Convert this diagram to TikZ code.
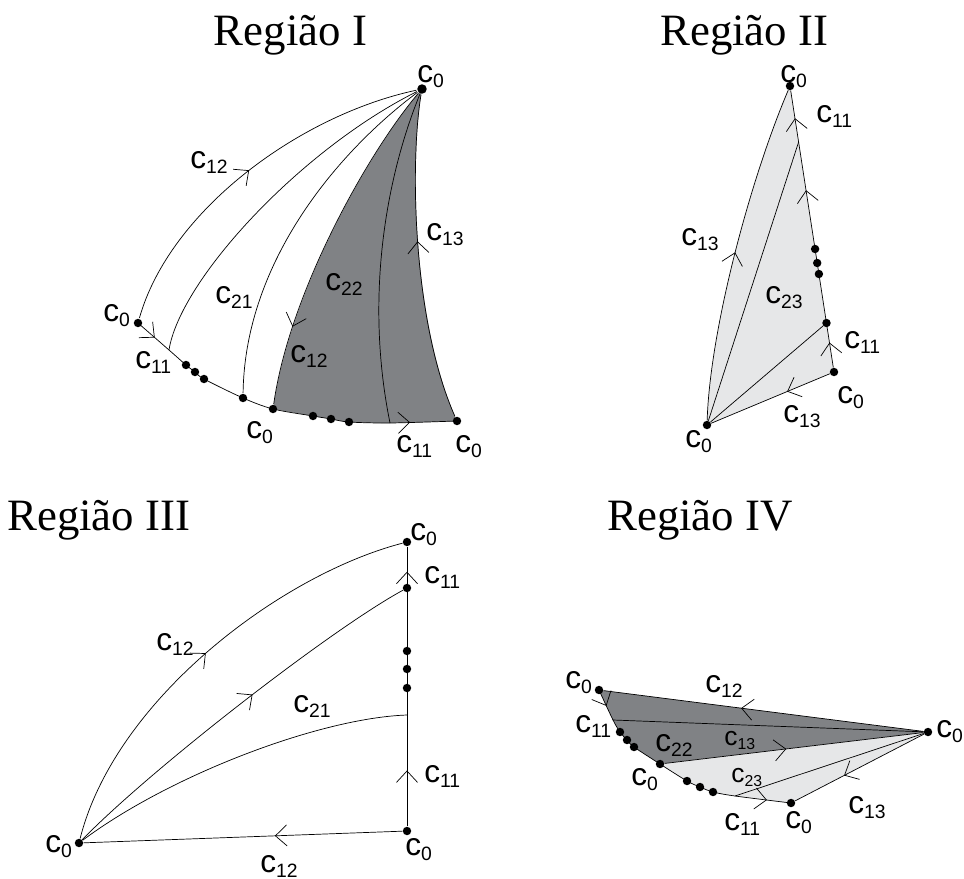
\documentclass[tikz,border=0pt]{standalone}
\usepackage{fontspec}
\setmainfont{Liberation Serif}
\newfontfamily\labfont{Liberation Sans}
\usepackage{tikz}
\usetikzlibrary{arrows.meta,decorations.markings}
\usepackage{xcolor}
\definecolor{darkfill}{RGB}{128,130,133}
\definecolor{lightfill}{RGB}{230,231,232}
\pgfdeclarelayer{background}
\pgfsetlayers{background,main}
\newcommand\cc[1]{c\raisebox{-3pt}{\fontsize{11}{12}\selectfont #1}}
\newcommand\ccs[1]{c\raisebox{-2.5pt}{\fontsize{9}{10}\selectfont #1}}
\tikzset{
  chev/.tip={Straight Barb[length=6.5pt,width=12pt]},
  dot/.style={circle,fill,inner sep=0pt,minimum size=4.8pt},
  lab/.style={font=\labfont\fontsize{18}{20}\selectfont,anchor=base west,inner sep=0pt},
  labs/.style={lab,font=\labfont\fontsize{15}{17}\selectfont},
  regtitle/.style={font=\fontsize{25.5}{28}\selectfont,anchor=base west,inner sep=0pt},
  flow/.style={postaction={decorate,decoration={markings,mark=at position #1 with {\arrow{chev}}}}}
}

\begin{document}
\begin{tikzpicture}[x=0.02cm,y=-0.02cm,line width=1.1pt]
\useasboundingbox (0,0) rectangle (964,879);

\node[regtitle] (t1) at (213,45) {Região I};
\node[dot,minimum size=5.4pt] (a1) at (422,89) {};
\node[dot] (l1) at (138,323) {};
\coordinate (p1) at (169,350);
\node[dot] (u1) at (186,365) {};
\node[dot] (u2) at (195,372) {};
\node[dot] (u3) at (204,379) {};
\node[dot] (p3) at (243,398) {};
\node[dot] (p4) at (273,409) {};
\node[dot] (v1) at (313,416) {};
\node[dot] (v2) at (331,419) {};
\node[dot] (v3) at (349,422) {};
\coordinate (p5) at (390,423);
\node[dot] (r1) at (457,421) {};
\begin{pgfonlayer}{background}
\fill[darkfill] (a1.center) .. controls (370,150) and (290,290) .. (p4.center)
  -- plot[smooth] coordinates {(p4.center) (v1.center) (v2.center) (v3.center) (p5) (r1.center)}
  .. controls (412,320) and (410,160) .. (a1.center) -- cycle;
\end{pgfonlayer}
\draw[flow=0.5] (l1) .. controls (170,210) and (300,115) .. (a1);
\draw (a1) .. controls (300,150) and (180,280) .. (p1);
\draw (a1) .. controls (340,150) and (245,260) .. (p3);
\draw[flow=0.77] (a1) .. controls (370,150) and (290,290) .. (p4);
\draw (a1) .. controls (385,180) and (365,300) .. (p5);
\draw[flow=0.55] (r1) .. controls (412,320) and (410,160) .. (a1);
\draw plot[smooth] coordinates {(l1.center) (p1) (u1.center) (u2.center) (u3.center) (p3.center) (p4.center) (v1.center) (v2.center) (v3.center) (p5) (r1.center)};
\path[flow=0.54] (l1.center) -- (p1);
\path[flow=0.3] (p5) -- (r1.center);
\node[lab] (k1) at (417,82) {\cc{0}};
\node[lab] (k2) at (190,168) {\cc{12}};
\node[lab] (k3) at (426,240) {\cc{13}};
\node[lab] (k4) at (325,290) {\cc{22}};
\node[lab] (k5) at (215,303) {\cc{21}};
\node[lab] (k6) at (290,362) {\cc{12}};
\node[lab] (k7) at (135,368) {\cc{11}};
\node[lab] (k8) at (103,321) {\cc{0}};
\node[lab] (k9) at (246,438) {\cc{0}};
\node[lab] (k10) at (396,452) {\cc{11}};
\node[lab] (k11) at (455,452) {\cc{0}};

\node[regtitle] (t2) at (660,45) {Região II};
\node[dot] (a2) at (790,86) {};
\coordinate (q1) at (798.6,142);
\node[dot] (w1) at (815.1,249) {};
\node[dot] (w2) at (817.2,263) {};
\node[dot] (w3) at (818.9,274) {};
\node[dot] (q2) at (826.5,323) {};
\node[dot] (r2) at (834,372) {};
\node[dot] (b2) at (707,425) {};
\begin{pgfonlayer}{background}
\fill[lightfill] (b2.center) .. controls (710,330) and (750,180) .. (a2.center) -- (r2.center) -- cycle;
\end{pgfonlayer}
\draw[flow=0.5] (b2) .. controls (710,330) and (750,180) .. (a2);
\draw[flow=0.09,flow=0.64,flow=0.9] (r2) -- (a2);
\draw (b2) -- (q1);
\draw (b2) -- (q2);
\draw[flow=0.36] (r2) -- (b2);
\node[lab] (n1) at (780,82) {\cc{0}};
\node[lab] (n2) at (816,122) {\cc{11}};
\node[lab] (n3) at (681,245) {\cc{13}};
\node[lab] (n4) at (765,303) {\cc{23}};
\node[lab] (n5) at (844,348) {\cc{11}};
\node[lab] (n6) at (837,403) {\cc{0}};
\node[lab] (n7) at (783,422) {\cc{13}};
\node[lab] (n8) at (685,447) {\cc{0}};

\node[regtitle] (t3) at (7,530) {Região III};
\node[dot] (a3) at (407,542) {};
\node[dot] (m3) at (407,588) {};
\node[dot] (s1) at (407,651) {};
\node[dot] (s2) at (407,669) {};
\node[dot] (s3) at (407,688) {};
\coordinate (j3) at (407,715);
\node[dot] (b3) at (407,831) {};
\node[dot] (l3) at (79,843) {};
\draw[flow=0.5] (l3) .. controls (115,700) and (280,575) .. (a3);
\draw[flow=0.55] (l3) .. controls (150,770) and (330,630) .. (m3);
\draw (l3) .. controls (170,775) and (320,718) .. (j3);
\draw[flow=0.2,flow=0.91] (b3) -- (a3);
\draw[flow=0.4] (b3) -- (l3);
\node[lab] (h1) at (410,540) {\cc{0}};
\node[lab] (h2) at (424,583) {\cc{11}};
\node[lab] (h3) at (156,650) {\cc{12}};
\node[lab] (h4) at (293,712) {\cc{21}};
\node[lab] (h5) at (424,782) {\cc{11}};
\node[lab] (h6) at (45,852) {\cc{0}};
\node[lab] (h7) at (405,855) {\cc{0}};
\node[lab] (h8) at (260,872) {\cc{12}};

\node[regtitle] (t4) at (607,530) {Região IV};
\node[dot] (a4) at (599,690) {};
\coordinate (e1) at (613,720);
\node[dot] (g1) at (620,732) {};
\node[dot] (g2) at (627,740) {};
\node[dot] (g3) at (634,747) {};
\node[dot] (m4) at (660,764) {};
\node[dot] (f1) at (687,781) {};
\node[dot] (f2) at (700,787) {};
\node[dot] (f3) at (713,792) {};
\coordinate (e2) at (735,796);
\node[dot] (b4) at (791,803) {};
\node[dot] (r4) at (928,732) {};
\begin{pgfonlayer}{background}
\fill[darkfill] (a4.center) -- (r4.center) -- (m4.center)
  -- plot[smooth] coordinates {(m4.center) (g3.center) (g2.center) (g1.center) (e1) (a4.center)} -- cycle;
\fill[lightfill] (m4.center)
  -- plot[smooth] coordinates {(m4.center) (f1.center) (f2.center) (f3.center) (e2) (b4.center)} -- (r4.center) -- cycle;
\end{pgfonlayer}
\draw plot[smooth] coordinates {(a4.center) (e1) (g1.center) (g2.center) (g3.center) (m4.center) (f1.center) (f2.center) (f3.center) (e2) (b4.center)};
\path[flow=0.53] (a4.center) -- (e1);
\path[flow=0.57] (e2) -- (b4.center);
\draw[flow=0.57] (r4) -- (a4);
\draw (r4) -- (e1);
\draw[flow=0.47] (m4) -- (r4);
\draw (r4) -- (e2);
\draw[flow=0.62] (r4) -- (b4);
\node[lab] (o1) at (565,688) {\cc{0}};
\node[lab] (o2) at (705,692) {\cc{12}};
\node[lab] (o3) at (575,732) {\cc{11}};
\node[lab] (o4) at (655,751) {\cc{22}};
\node[labs] (o5) at (724,745) {\ccs{13}};
\node[lab] (o6) at (631,785) {\cc{0}};
\node[labs] (o7) at (731,782) {\ccs{23}};
\node[lab] (o8) at (724,830) {\cc{11}};
\node[lab] (o9) at (785,828) {\cc{0}};
\node[lab] (o10) at (848,813) {\cc{13}};
\node[lab] (o11) at (936,737) {\cc{0}};
\end{tikzpicture}
\end{document}
